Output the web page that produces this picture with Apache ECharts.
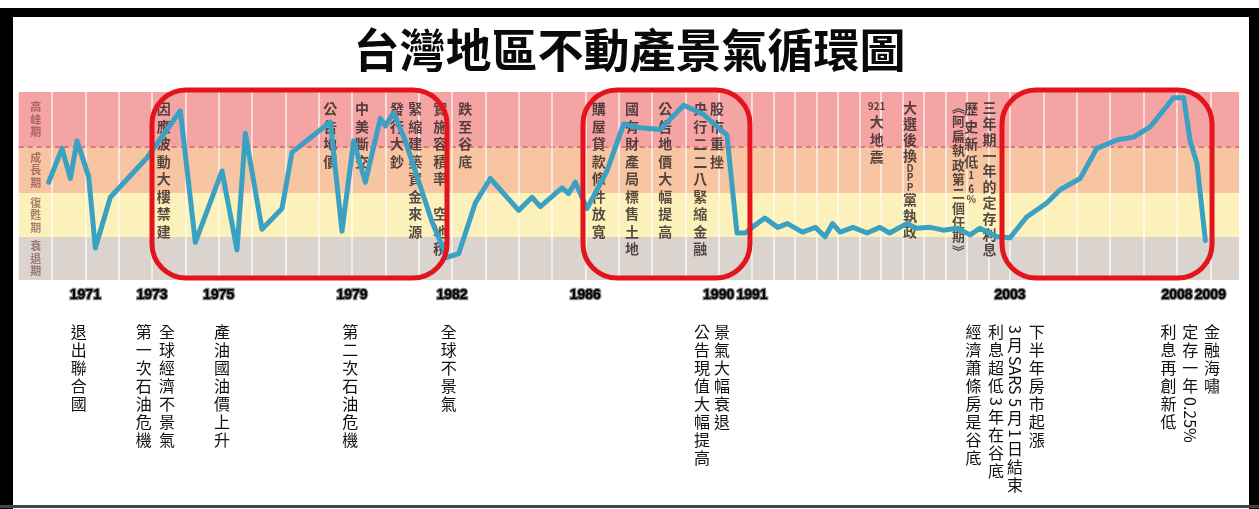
<!DOCTYPE html>
<html>
<head>
<meta charset="utf-8">
<title>台灣地區不動產景氣循環圖</title>
<script src="https://cdn.jsdelivr.net/npm/echarts@6/dist/echarts.min.js"></script>
<style>
  html, body { margin: 0; padding: 0; background: #fff; }
  #c { width: 1259px; height: 509px; }
</style>
</head>
<body>
<div id="c"></div>
<script>
// ---- data -------------------------------------------------------------
const TITLE = '台灣地區不動產景氣循環圖';

// The time axis is drawn in three linear pieces (1991-2003 is compressed).
const axisRanges = [[1969, 1991], [1991, 2003], [2003, 2009.86]];

// Cycle index (0 = bottom of 衰退期, 100 = top of 高峰期) by year.
const cycle1970s80s = [
  [1969.9, 52], [1970.3, 70], [1970.55, 54], [1970.75, 74], [1971.1, 55], [1971.3, 17],
  [1971.75, 44], [1972.85, 65], [1973.85, 90], [1974.3, 20], [1975.1, 58], [1975.55, 16],
  [1975.8, 78], [1976.3, 27], [1976.9, 38], [1977.2, 68], [1978.35, 84], [1978.7, 26],
  [1979.05, 74], [1979.4, 52], [1979.85, 86], [1980.0, 82], [1980.25, 89], [1980.6, 74],
  [1981.4, 31], [1981.85, 12], [1982.2, 14], [1982.7, 41], [1983.15, 54], [1984.0, 37],
  [1984.4, 44], [1984.65, 39], [1985.3, 49], [1985.5, 46], [1985.7, 52], [1986.05, 38],
  [1986.65, 58], [1987.15, 83], [1987.65, 81], [1988.25, 80], [1988.95, 93], [1989.55, 88],
  [1990.25, 77], [1990.55, 25], [1990.8, 25], [1991, 28]
];
const cycle1990s = [
  [1991, 28], [1991.6, 33], [1992.2, 28], [1992.65, 30], [1993.35, 25.5], [1993.95, 28],
  [1994.4, 23], [1994.75, 30], [1995.1, 25.5], [1995.7, 28], [1996.35, 25], [1996.95, 28],
  [1997.4, 25], [1998.2, 30], [1998.65, 27.5], [1999.3, 28], [1999.9, 26.5], [2000.55, 27.5],
  [2001.15, 24], [2001.6, 27.5], [2002.4, 23], [2003, 22.5]
];
const cycle2000s = [
  [2003, 22.5], [2003.5, 33.5], [2004.1, 41], [2004.5, 48], [2005.1, 54], [2005.6, 70],
  [2006.2, 74.5], [2006.7, 76], [2007.2, 81.5], [2007.9, 97], [2008.2, 97], [2008.4, 73.5],
  [2008.6, 62], [2008.85, 21]
];

// Phase bands, bottom to top
const phaseNames = ['衰退期', '復甦期', '成長期', '高峰期'];
const phaseBounds = [0, 22.9, 46.3, 70.7, 100];

// Labelled years under the bands
const yearTicks = [1971, 1973, 1975, 1979, 1982, 1986, 1990, 1991, 2003, 2008, 2009];

// Boom periods that are circled
const boomPeriods = [[1973.0, 1981.85], [1985.93, 1990.94], [2002.63, 2009.05]];

// Notes written inside the bands
const bandNotes = [
  [1973.35, '因應波動大樓禁建'],
  [1978.35, '公告地價'],
  [1979.3, '中美斷交'],
  [1980.35, '發行大鈔'],
  [1980.9, '緊縮建築資金來源'],
  [1981.65, '實施容積率　空地稅'],
  [1982.4, '跌至谷底'],
  [1986.4, '購屋貸款條件放寬'],
  [1987.4, '國有財產局標售土地'],
  [1988.4, '公告地價大幅提高'],
  [1989.45, '央行二二八緊縮金融'],
  [1989.95, '股市重挫'],
  [1996.8, '921大地震'],
  [1998.35, '大選後換DPP黨執政'],
  [2000.6, '︽阿扁執政第二個任期︾'],
  [2001.2, '歷史新低1.6%'],
  [2002.05, '三年期一年的定存利息']
];

// Events listed below the year labels
const events = [
  [1970.8, '退出聯合國'],
  [1972.75, '第一次石油危機'],
  [1973.45, '全球經濟不景氣'],
  [1975.1, '產油國油價上升'],
  [1978.95, '第二次石油危機'],
  [1981.9, '全球不景氣'],
  [1989.5, '公告現值大幅提高'],
  [1990.1, '景氣大幅衰退'],
  [2001.3, '經濟蕭條房是谷底'],
  [2002.35, '利息超低3年在谷底'],
  [2003.15, '3月SARS 5月1日結束'],
  [2003.8, '下半年房市起漲'],
  [2007.75, '利息再創新低'],
  [2008.4, '定存一年0.25%'],
  [2009.05, '金融海嘯']
];

// ---- layout & style ---------------------------------------------------
const FONT_CJK = '"Noto Sans CJK TC", "Noto Sans CJK SC", sans-serif';
const PX_PER_YEAR = [33.33, 21.5, 33.4];
const GRID_LEFT = 18.7, GRID_TOP = 92, GRID_HEIGHT = 188;
const bandColors = ['#dbd3cd', '#fcf1ba', '#f8c5a2', '#f5a4a4'];
const LINE_COLOR = '#3ba1c3';

const grids = [];
let acc = GRID_LEFT;
axisRanges.forEach((r, i) => {
  const w = (r[1] - r[0]) * PX_PER_YEAR[i];
  grids.push({ left: acc, top: GRID_TOP, width: w, height: GRID_HEIGHT });
  acc += w;
});

const segments = [cycle1970s80s, cycle1990s, cycle2000s];

function yearLines(i) {
  const [a, b] = axisRanges[i];
  const out = [];
  for (let y = Math.ceil(a); y < b; y++) {
    if (i === 0 && y === a) continue;
    out.push({ xAxis: y, lineStyle: { type: 'solid', color: 'rgba(255,255,255,0.6)', width: 2 } });
  }
  return out;
}

const chart = echarts.init(document.getElementById('c'), null, { renderer: 'canvas' });

chart.setOption({
  animation: false,
  backgroundColor: '#fff',
  title: {
    text: TITLE,
    left: 'center',
    top: 22,
    textStyle: { fontFamily: FONT_CJK, fontSize: 46, fontWeight: 'bold', color: '#0a0a0a' }
  },
  grid: grids,
  xAxis: axisRanges.map((r, i) => ({
    type: 'value', gridIndex: i, min: r[0], max: r[1], interval: 1,
    axisLine: { show: false }, axisTick: { show: false }, splitLine: { show: false },
    axisLabel: {
      show: true, margin: 8, showMinLabel: true, showMaxLabel: true,
      fontFamily: 'Liberation Sans', fontWeight: 900, fontSize: 14, color: '#000',
      textBorderColor: 'rgba(30,30,30,0.55)', textBorderWidth: 2.5,
      formatter: v => {
        const inRange = i === axisRanges.length - 1 ? (v >= r[0] && v <= r[1]) : (v >= r[0] && v < r[1]);
        return inRange && yearTicks.indexOf(v) >= 0 ? String(v) : '';
      }
    }
  })),
  yAxis: axisRanges.map((r, i) => ({
    type: 'value', gridIndex: i, min: 0, max: 100, show: false
  })),
  series: segments.map((d, i) => ({
    type: 'line', xAxisIndex: i, yAxisIndex: i, data: d, z: 3,
    symbol: 'none', clip: false, silent: true,
    lineStyle: { color: LINE_COLOR, width: 5, cap: 'round', join: 'round' },
    markArea: {
      silent: true, z: 1,
      data: phaseNames.map((n, k) => [
        { yAxis: phaseBounds[k], itemStyle: { color: bandColors[k] } },
        { yAxis: phaseBounds[k + 1] }
      ])
    },
    markLine: {
      silent: true, z: 1.5, symbol: 'none', label: { show: false },
      emphasis: { disabled: true },
      data: [
        { yAxis: phaseBounds[3], lineStyle: { type: [5, 4], color: '#d97878', width: 2 } }
      ].concat(yearLines(i))
    }
  }))
});

// ---- annotations positioned through the axes ---------------------------
function px(year) {
  let i = 0;
  if (year >= axisRanges[1][0]) i = 1;
  if (year >= axisRanges[2][0]) i = 2;
  return chart.convertToPixel({ xAxisIndex: i }, year);
}
function py(v) {
  return chart.convertToPixel({ yAxisIndex: 0 }, v);
}

const mctx = document.createElement('canvas').getContext('2d');
function textEl(x, y, text, size, weight, fill, z, extra) {
  return Object.assign({
    type: 'text', x: x, y: y, z: z, silent: true,
    style: {
      text: text, fontFamily: FONT_CJK, fontSize: size, fontWeight: weight,
      fill: fill, align: 'center', verticalAlign: 'middle'
    }
  }, extra || {});
}

// Vertical column of text; latin runs are either rotated or stacked small.
function column(cx, top, str, o) {
  const els = [];
  let y = top;
  const runs = str.match(/[\x20-\x7e]+|[^\x20-\x7e]/g) || [];
  runs.forEach(r => {
    const latin = /^[\x20-\x7e]+$/.test(r);
    if (!latin) {
      els.push(textEl(cx, y + o.pitch / 2, r, o.size, o.weight, o.fill, o.z));
      y += o.pitch;
    } else if (o.latin === 'rotate') {
      mctx.font = o.weight + ' ' + o.size + 'px ' + FONT_CJK;
      const w = mctx.measureText(r).width;
      const el = textEl(cx, y + 2, r, o.size, o.weight, o.fill, o.z, { rotation: -Math.PI / 2 });
      el.style.align = 'left';
      els.push(el);
      y += w + 4;
    } else {
      const small = Math.round(o.size * 0.72);
      mctx.font = o.weight + ' ' + small + 'px ' + FONT_CJK;
      const w = mctx.measureText(r).width;
      if (w <= o.size * 1.3) {
        els.push(textEl(cx, y + small / 2 + 1, r, small, o.weight, o.fill, o.z));
        y += small + 3;
      } else {
        for (const ch of r) {
          const h = ch === '.' ? small * 0.5 : small * 0.95;
          els.push(textEl(cx, y + h / 2, ch, small, o.weight, o.fill, o.z));
          y += h;
        }
      }
    }
  });
  return els;
}

const W = 1259, H = 509;
const bandTop = py(100), bandBottom = py(0);
let elements = [];

// phase names on the left edge
phaseNames.forEach((n, k) => {
  const mid = (py(phaseBounds[k]) + py(phaseBounds[k + 1])) / 2;
  const pitch = 12.5;
  elements = elements.concat(column(grids[0].left + 17, mid - pitch * 1.5, n, {
    size: 11, pitch: pitch, weight: 'bold', fill: 'rgba(110,55,55,0.6)', z: 1.8, latin: 'stack'
  }));
});

// notes inside the bands
const NOTE_SPAN = 158;
bandNotes.forEach(([yr, t]) => {
  const len = Array.from(t).length;
  const pitch = Math.min(17.5, NOTE_SPAN / len);
  const size = Math.min(14, pitch - 1.5);
  elements = elements.concat(column(px(yr), bandTop + 8, t, {
    size: size, pitch: pitch, weight: 'bold', fill: 'rgba(45,35,35,0.8)', z: 1.8, latin: 'stack'
  }));
});

// events under the axis
events.forEach(([yr, t]) => {
  elements = elements.concat(column(px(yr), bandBottom + 43, t, {
    size: 16, pitch: 18, weight: 'normal', fill: '#111', z: 2, latin: 'rotate'
  }));
});

// circled boom periods
boomPeriods.forEach(([a, b]) => {
  const x0 = px(a), x1 = px(b);
  elements.push({
    type: 'rect', z: 4, silent: true,
    shape: { x: x0, y: bandTop - 2, width: x1 - x0, height: bandBottom - bandTop, r: 34 },
    style: { fill: 'none', stroke: '#e3141c', lineWidth: 5 }
  });
});

// frame
elements.push(
  { type: 'rect', z: 10, silent: true, shape: { x: 0, y: 8, width: W, height: 9 }, style: { fill: '#000' } },
  { type: 'rect', z: 10, silent: true, shape: { x: 0, y: 8, width: 13, height: H - 8 }, style: { fill: '#000' } },
  { type: 'rect', z: 10, silent: true, shape: { x: W - 10, y: 8, width: 10, height: H - 8 }, style: { fill: '#000' } },
  { type: 'rect', z: 10, silent: true, shape: { x: 0, y: H - 4, width: W, height: 3 }, style: { fill: '#444' } }
);

chart.setOption({ graphic: { elements: elements } });
</script>
</body>
</html>
